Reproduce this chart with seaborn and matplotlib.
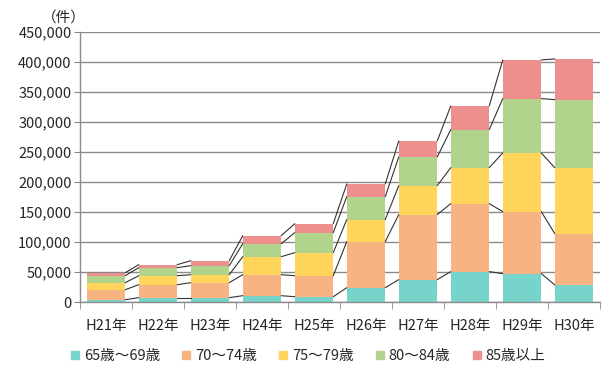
import numpy as np
import pandas as pd
from matplotlib import pyplot as plt
import seaborn as sns
from matplotlib.lines import Line2D
from matplotlib.ticker import FuncFormatter, MultipleLocator, FixedLocator

sns.set_style("white")
plt.rcParams["font.family"] = ["Noto Sans CJK JP", "DejaVu Sans"]

years = ["H21年", "H22年", "H23年", "H24年", "H25年",
         "H26年", "H27年", "H28年", "H29年", "H30年"]
age_groups = ["65歳～69歳", "70～74歳", "75～79歳", "80～84歳", "85歳以上"]

# counts per age group
age_65_69 = [4300, 7700, 7700, 11000, 9300, 24400, 37800, 51100, 47800, 28900]
age_70_74 = [16700, 21600, 25000, 35000, 35000, 76700, 108300, 113300, 103300, 85500]
age_75_79 = [11700, 15000, 13300, 30000, 38400, 36700, 48300, 60000, 97800, 110000]
age_80_84 = [11600, 13400, 15000, 21700, 33300, 38300, 47800, 63400, 90500, 113400]
age_85_up = [5000, 5000, 8300, 13300, 15000, 21100, 26700, 39400, 64500, 67800]

colors = ["#77D4CB", "#F8B383", "#FFD55C", "#B1D38C", "#ED908D"]

df = pd.DataFrame({"year": years})
series = [age_65_69, age_70_74, age_75_79, age_80_84, age_85_up]
cum = np.cumsum(np.array(series), axis=0)
for i, grp in enumerate(age_groups):
    df[grp] = cum[i]

fig = plt.figure(figsize=(6.13, 3.78), dpi=100)
ax = fig.add_axes([0.1305, 0.2003, 0.8483, 0.7143])

bar_w = 0.74
# draw stacked bars: tallest (cumulative) first, then overlay
for i in reversed(range(len(age_groups))):
    sns.barplot(data=df, x="year", y=age_groups[i], color=colors[i],
                saturation=1.0, width=bar_w, ax=ax, zorder=2,
                linewidth=0, edgecolor="none")

# series lines between neighbouring bars
for i in range(len(age_groups)):
    for j in range(len(years) - 1):
        ax.plot([j + bar_w / 2, j + 1 - bar_w / 2], [cum[i][j], cum[i][j + 1]],
                color="#333333", lw=0.8, zorder=3)

ax.set_xlim(-0.5, len(years) - 0.5)
ax.set_ylim(0, 450000)
ax.yaxis.set_major_locator(MultipleLocator(50000))
ax.yaxis.set_major_formatter(FuncFormatter(lambda v, p: f"{int(v):,}"))
ax.grid(axis="y", color="#8a8a8a", lw=1.0, zorder=0)
ax.set_axisbelow(True)
ax.set_xlabel("")
ax.set_ylabel("")

for s in ["top", "right"]:
    ax.spines[s].set_visible(False)
for s in ["left", "bottom"]:
    ax.spines[s].set_color("#8a8a8a")
    ax.spines[s].set_linewidth(1.0)

ax.tick_params(axis="y", which="major", length=4, color="#8a8a8a",
               labelsize=10.5, pad=2, left=True)
ax.tick_params(axis="x", which="major", length=0, labelsize=10.5, pad=12)
ax.xaxis.set_minor_locator(FixedLocator(np.arange(-0.5, len(years), 1.0)))
ax.tick_params(axis="x", which="minor", length=5, color="#8a8a8a",
               direction="out", bottom=True)

fig.text(0.068, 0.953, "（件）", fontsize=10.5, ha="left", va="center")

handles = [Line2D([0], [0], marker="s", color=c, linestyle="", markersize=6)
           for c in colors]
fig.legend(handles, age_groups, loc="center left", bbox_to_anchor=(0.106, 0.058),
           ncol=5, frameon=False, fontsize=10.5, handlelength=0.6,
           handletextpad=0.3, columnspacing=1.5, borderaxespad=0)

plt.savefig("out.png", dpi=100)
